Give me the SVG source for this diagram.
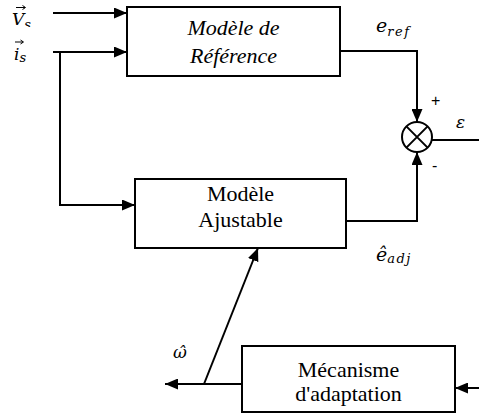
<svg xmlns="http://www.w3.org/2000/svg" width="479" height="414" viewBox="0 0 479 414">
<style>
.box{fill:#fff;stroke:#000;stroke-width:2}
.ln{fill:none;stroke:#000;stroke-width:2}
.acc{fill:none;stroke:#000;stroke-width:1}
</style>
<defs>
<marker id="ah" markerUnits="userSpaceOnUse" markerWidth="13" markerHeight="11" refX="13" refY="5.5" orient="auto">
<path d="M0,0 L13,5.5 L0,11 z" fill="#000"/>
</marker>
<clipPath id="clipV"><rect x="0" y="0" width="60" height="27"/></clipPath>
</defs>

<g id="connectors">
<path class="ln" d="M53,13 H127" marker-end="url(#ah)"/>
<path class="ln" d="M53,52 H127" marker-end="url(#ah)"/>
<path class="ln" d="M60,52 V205 H135" marker-end="url(#ah)"/>
<path class="ln" d="M340,51 H417 V122" marker-end="url(#ah)"/>
<path class="ln" d="M346,221 H417 V152" marker-end="url(#ah)"/>
<path class="ln" d="M432,140 H479"/>
<path class="ln" d="M479,388 H455" marker-end="url(#ah)"/>
<path class="ln" d="M242,384 H165" marker-end="url(#ah)"/>
<path class="ln" d="M204,384 L258,248" marker-end="url(#ah)"/>
</g>

<g id="ref-model">
<rect class="box" x="127" y="7" width="213" height="69"/>
<text x="233.5" y="35" font-family="Liberation Serif" font-size="22" font-style="italic" text-anchor="middle">Modèle de</text>
<text x="233.5" y="63" font-family="Liberation Serif" font-size="22" font-style="italic" text-anchor="middle">Référence</text>
</g>

<g id="adj-model">
<rect class="box" x="135" y="179" width="211" height="69"/>
<text x="240.5" y="201" font-family="Liberation Serif" font-size="22" text-anchor="middle">Modèle</text>
<text x="240.5" y="227" font-family="Liberation Serif" font-size="22" text-anchor="middle">Ajustable</text>
</g>

<g id="adaptation">
<rect class="box" x="242" y="346" width="213" height="66"/>
<text x="348.5" y="377" font-family="Liberation Serif" font-size="22" text-anchor="middle">Mécanisme</text>
<text x="348.5" y="401" font-family="Liberation Serif" font-size="22" text-anchor="middle">d'adaptation</text>
</g>

<g id="sum">
<circle cx="417" cy="137" r="15" fill="#fff" stroke="#000" stroke-width="2"/>
<path class="ln" d="M406.4,126.4 L427.6,147.6 M427.6,126.4 L406.4,147.6" stroke-width="1.5"/>
<text x="431" y="106" font-family="Liberation Sans" font-size="16">+</text>
<text x="432" y="171" font-family="Liberation Sans" font-size="16">-</text>
</g>

<g id="labels">
<g clip-path="url(#clipV)">
<text x="12" y="25" font-family="DejaVu Serif" font-style="italic" font-size="17">V<tspan font-size="13" dy="4">s</tspan></text>
</g>
<path class="acc" d="M16,7.5 H25 M22.5,5.5 L25.5,7.5 L22.5,9.5"/>
<text x="14" y="60" font-family="DejaVu Serif" font-style="italic" font-size="17">i<tspan font-size="13" dy="2">s</tspan></text>
<path class="acc" d="M15,42 H23 M20.5,40 L23.5,42 L20.5,44"/>
<text x="376" y="32" font-family="DejaVu Serif" font-style="italic" font-size="19">e<tspan font-size="13" dy="4" letter-spacing="1.5">ref</tspan></text>
<text x="376" y="261" font-family="DejaVu Serif" font-style="italic" font-size="19">ê<tspan font-size="13" dy="2" letter-spacing="1.5">adj</tspan></text>
<text x="456" y="128" font-family="DejaVu Serif" font-style="italic" font-size="17">ε</text>
<text x="173" y="358" font-family="DejaVu Serif" font-style="italic" font-size="17">ω̂</text>
</g>
</svg>
